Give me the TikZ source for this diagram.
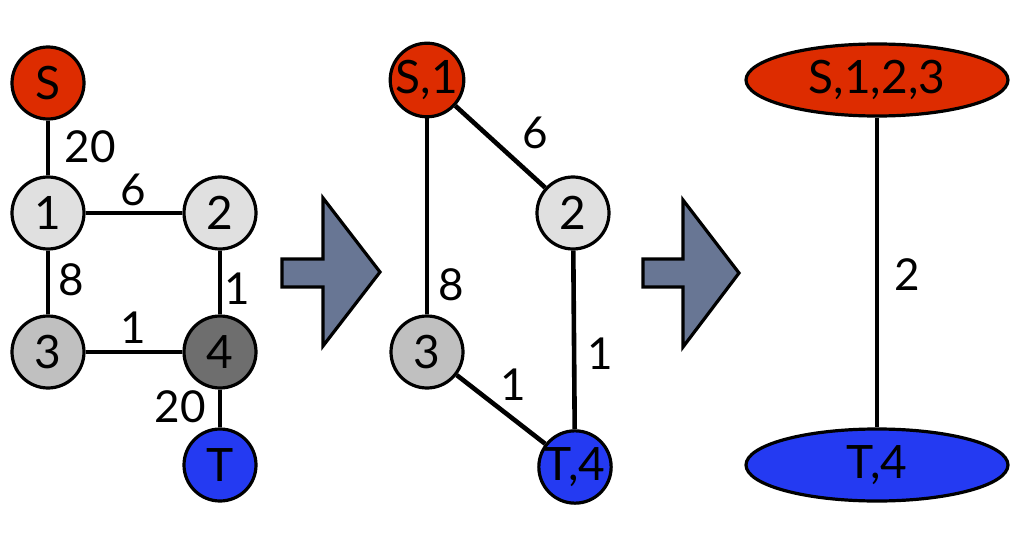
\documentclass[tikz,border=0pt]{standalone}
\usepackage{fontspec}
\setmainfont{Lato}
\usepackage{tikz}
\usetikzlibrary{shapes.geometric}
\definecolor{srcred}{RGB}{221,44,0}
\definecolor{sinkblue}{RGB}{36,58,242}
\definecolor{palegray}{RGB}{224,224,224}
\definecolor{midgray}{RGB}{192,192,192}
\definecolor{deepgray}{RGB}{110,110,110}
\definecolor{slate}{RGB}{104,118,148}

\begin{document}
\begin{tikzpicture}[x=1pt, y=-1pt,
    vertex/.style={circle, draw=black, line width=3.2pt, minimum size=72pt, inner sep=0pt, font=\fontsize{46}{46}\selectfont},
    blob/.style={ellipse, draw=black, line width=3.2pt, minimum width=262pt, minimum height=72pt, inner sep=0pt, font=\fontsize{46}{46}\selectfont},
    edge/.style={line width=4.6pt},
    weight/.style={font=\fontsize{44}{44}\selectfont},
    bigarrow/.style={draw=black, line width=3.2pt, fill=slate}]
    \useasboundingbox (0,0) rectangle (1018,543);      % page size

    % first graph
    \node [vertex, fill=srcred]   (s)  at (48,83)   {S};
    \node [vertex, fill=palegray] (v1) at (48,213)  {1};
    \node [vertex, fill=palegray] (v2) at (220,213) {2};
    \node [vertex, fill=midgray]  (v3) at (48,352)  {3};
    \node [vertex, fill=deepgray] (v4) at (220,352) {4};
    \node [vertex, fill=sinkblue] (t)  at (220,465) {T};
    \draw [edge] (s) -- (v1);                          % draw the edges
    \draw [edge] (v1) -- (v2);
    \draw [edge] (v1) -- (v3);
    \draw [edge] (v2) -- (v4);
    \draw [edge] (v3) -- (v4);
    \draw [edge] (v4) -- (t);
    \node [weight] (w1) at (90,147)  {20};             % label the weights
    \node [weight] (w2) at (133,190) {6};
    \node [weight] (w3) at (71,280)  {8};
    \node [weight] (w4) at (237,289) {1};
    \node [weight] (w5) at (133,328) {1};
    \node [weight] (w6) at (180,407) {20};

    % first arrow
    \draw [bigarrow] (282,259) -- (323,259) -- (323,198) -- (380,272)
        -- (323,346) -- (323,287) -- (282,287) -- cycle;

    % second graph
    \node [vertex, fill=srcred]   (s1) at (427,80)  {S,1};
    \node [vertex, fill=palegray] (m2) at (573,213) {2};
    \node [vertex, fill=midgray]  (m3) at (427,352) {3};
    \node [vertex, fill=sinkblue] (t4) at (575,467) {T,4};
    \draw [edge] (s1) -- (m2);                         % draw the edges
    \draw [edge] (s1) -- (m3);
    \draw [edge] (m2) -- (t4);
    \draw [edge] (m3) -- (t4);
    \node [weight] (x1) at (535,133) {6};              % label the weights
    \node [weight] (x2) at (451,285) {8};
    \node [weight] (x3) at (513,385) {1};
    \node [weight] (x4) at (600,354) {1};

    % second arrow
    \draw [bigarrow] (643,259) -- (683,259) -- (683,200) -- (739,273)
        -- (683,347) -- (683,287) -- (643,287) -- cycle;

    % last graph
    \node [blob, fill=srcred]   (top) at (877,80)  {S,1,2,3};
    \node [blob, fill=sinkblue] (bot) at (877,465) {T,4};
    \draw [edge] (top) -- (bot);
    \node [weight] (y1) at (907,275) {2};
\end{tikzpicture}
\end{document}
